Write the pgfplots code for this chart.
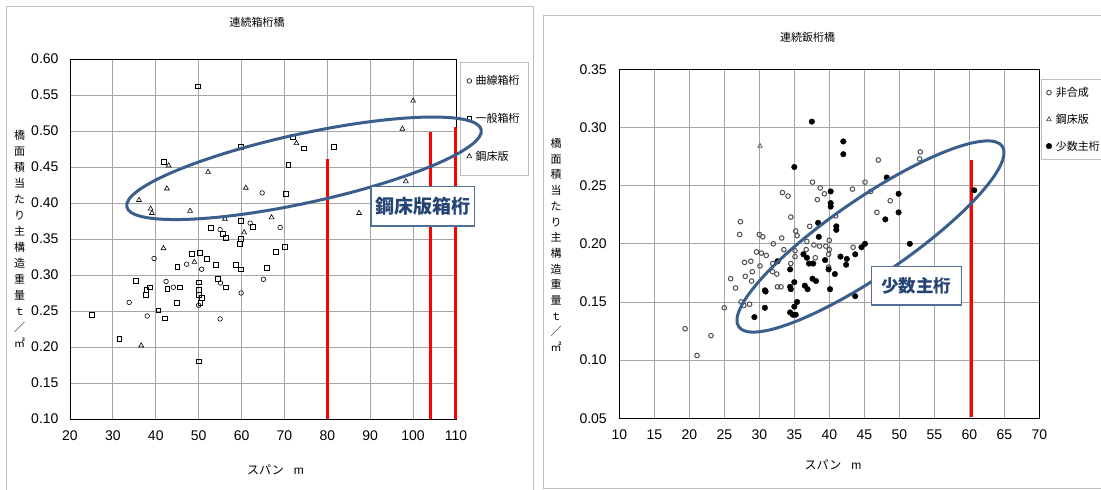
\documentclass[border=0pt]{standalone}
\usepackage{fontspec}
\setmainfont{Liberation Sans}
\newfontfamily\cjk{Noto Sans CJK JP}
\usepackage{pgfplots}
\pgfplotsset{compat=1.18}
\definecolor{ellblue}{RGB}{59,95,140}
\definecolor{boxtext}{RGB}{38,68,115}
\definecolor{boxedge}{RGB}{80,110,150}
\definecolor{gridgray}{RGB}{165,165,165}
\definecolor{framegray}{RGB}{190,190,190}
\definecolor{redline}{RGB}{255,0,0}
\definecolor{opengray}{RGB}{80,80,80}

\pgfplotsset{
  common/.style={
    scale only axis,
    grid=major,
    major grid style={gridgray, line width=0.9pt},
    axis line style={black, line width=0.9pt},
    tick style={draw=none},
    /pgf/number format/assume math mode=true,
    yticklabel style={/pgf/number format/fixed, /pgf/number format/fixed zerofill, /pgf/number format/precision=2},
    ticklabel style={font=\fontsize{14}{14}\selectfont},
    clip=false,
    legend cell align=left,
    legend image code/.code={\draw[##1] plot coordinates {(0pt,0pt)};},
  }
}

\begin{document}
\begin{tikzpicture}[x=1pt,y=1pt]
\useasboundingbox (0,0) rectangle (1101,490);
\clip (0,0) rectangle (1101,490);
\fill[white] (0,0) rectangle (1101,490);
% outer frames
\draw[framegray, line width=0.9pt] (6.9,-5) -- (6.9,483.3) -- (533.7,483.3) -- (533.7,-5);
\draw[framegray, line width=0.9pt] (543.6,1.7) rectangle (1120,475);

% ---------------- left chart ----------------
\begin{axis}[common,
  at={(70pt,71pt)}, anchor=south west, width=386pt, height=360pt,
  xmin=20, xmax=110, ymin=0.10, ymax=0.60,
  xtick={20,30,40,50,60,70,80,90,100,110},
  ytick={0.10,0.15,0.20,0.25,0.30,0.35,0.40,0.45,0.50,0.55,0.60},
  yticklabel style={xshift=-8pt}, xticklabel style={yshift=-8pt},
  legend style={at={(1.0096,0.9908)}, anchor=north west, draw=framegray, fill=white,
    inner xsep=7pt, inner ysep=12pt, row sep=25pt,
    font=\cjk\fontsize{11}{11}\selectfont, nodes={inner sep=1pt},
    /tikz/every odd column/.style={column sep=3pt}},
]
\addplot[only marks, mark=o, mark size=2.3pt, mark options={black, line width=0.6pt}] coordinates {
(64.8,0.414)(39.6,0.323)(47.2,0.315)(50.7,0.308)(33.8,0.262)(38.0,0.243)(42.4,0.291)(44.1,0.283)
(55.0,0.363)(62.0,0.372)(69.0,0.366)(65.1,0.294)(59.9,0.275)(55.0,0.239)(55.1,0.289)(50.0,0.258)
};
\addlegendentry{曲線箱桁}
\addplot[only marks, mark=square, mark size=2.4pt, mark options={black, line width=0.6pt}] coordinates {
(49.8,0.562)(41.9,0.457)(59.9,0.478)(72.0,0.492)(74.5,0.476)(81.6,0.478)(70.9,0.453)(70.4,0.413)
(52.9,0.366)(55.7,0.357)(56.4,0.352)(59.9,0.375)(62.7,0.367)(59.9,0.350)(59.6,0.343)(70.1,0.339)
(68.0,0.332)(65.9,0.310)(58.7,0.314)(59.9,0.308)(54.0,0.314)(54.4,0.295)(51.9,0.323)(50.3,0.331)
(48.4,0.329)(45.0,0.311)(45.6,0.283)(44.9,0.261)(42.7,0.281)(42.1,0.240)(40.6,0.251)(38.6,0.283)
(37.8,0.279)(37.6,0.272)(35.3,0.292)(31.5,0.211)(25.1,0.245)(50.0,0.180)(50.0,0.290)(50.0,0.279)
(50.0,0.272)(50.7,0.268)(50.4,0.261)(56.4,0.283)
};
\addlegendentry{一般箱桁}
\addplot[only marks, mark=triangle, mark size=2.8pt, mark options={black, line width=0.6pt}] coordinates {
(100.0,0.542)(97.5,0.503)(98.3,0.430)(87.4,0.386)(72.8,0.483)(52.2,0.443)(43.0,0.452)(42.6,0.420)
(61.0,0.421)(36.1,0.404)(38.8,0.392)(39.1,0.386)(48.0,0.389)(56.1,0.378)(67.0,0.380)(60.6,0.359)
(41.8,0.337)(49.0,0.318)(36.6,0.202)
};
\addlegendentry{鋼床版}
\addplot[redline, line width=3pt, forget plot] coordinates {(80,0.10)(80,0.461)};
\addplot[redline, line width=3pt, forget plot] coordinates {(104,0.10)(104,0.499)};
\addplot[redline, line width=3pt, forget plot] coordinates {(110,0.10)(110,0.506)};
\end{axis}

% ---------------- right chart ----------------
\begin{axis}[common,
  at={(619.3pt,71.7pt)}, anchor=south west, width=420pt, height=349pt,
  xmin=10, xmax=70, ymin=0.05, ymax=0.35,
  xtick={10,15,20,25,30,35,40,45,50,55,60,65,70},
  ytick={0.05,0.10,0.15,0.20,0.25,0.30,0.35},
  yticklabel style={xshift=-9pt}, xticklabel style={yshift=-8pt},
  legend style={at={(1.004,0.972)}, anchor=north west, draw=framegray, fill=white,
    inner xsep=5pt, inner ysep=7pt, row sep=14pt,
    font=\cjk\fontsize{11}{11}\selectfont, nodes={inner sep=1pt},
    /tikz/every odd column/.style={column sep=3pt}},
]
\addplot[only marks, mark=o, mark size=2.3pt, mark options={opengray, line width=1pt}] coordinates {
(19.4,0.127)(21.1,0.104)(23.1,0.121)(25.0,0.145)(26.6,0.162)(25.9,0.170)(27.3,0.219)(27.2,0.208)
(28.0,0.172)(27.9,0.184)(28.8,0.185)(28.9,0.168)(29.0,0.176)(27.4,0.150)(27.8,0.147)(28.6,0.148)
(29.6,0.193)(30.3,0.192)(31.0,0.190)(30.1,0.181)(30.0,0.208)(30.5,0.206)(32.0,0.200)(33.2,0.205)
(31.9,0.183)(31.9,0.176)(32.5,0.174)(32.6,0.163)(33.1,0.163)(33.3,0.244)(34.1,0.241)(34.5,0.223)
(35.2,0.211)(35.4,0.207)(33.5,0.195)(35.1,0.194)(34.5,0.183)(35.1,0.189)(36.7,0.195)(36.8,0.202)
(37.2,0.215)(37.6,0.253)(38.7,0.248)(38.3,0.238)(39.3,0.243)(37.8,0.199)(38.6,0.198)(38.0,0.188)
(39.5,0.198)(40.0,0.203)(40.0,0.195)(39.9,0.191)(39.9,0.180)(40.9,0.224)(43.4,0.197)(43.3,0.247)
(45.1,0.253)(45.9,0.245)(47.0,0.272)(46.8,0.227)(48.7,0.237)(53.0,0.279)(52.9,0.273)
};
\addlegendentry{非合成}
\addplot[only marks, mark=triangle, mark size=2.6pt, mark options={opengray, line width=0.7pt}] coordinates {
(30.1,0.284)
};
\addlegendentry{鋼床版}
\addplot[only marks, mark=*, mark size=2.8pt, mark options={black}] coordinates {
(37.5,0.305)(42.0,0.288)(42.0,0.277)(35.0,0.266)(48.2,0.257)(60.7,0.246)(40.2,0.245)(49.9,0.243)
(40.2,0.235)(40.2,0.232)(49.9,0.227)(48.0,0.221)(38.4,0.218)(41.0,0.215)(41.0,0.212)(38.5,0.206)
(51.5,0.200)(45.1,0.200)(44.6,0.197)(43.7,0.191)(41.6,0.189)(42.5,0.187)(42.4,0.182)(39.4,0.186)
(36.3,0.191)(36.8,0.188)(37.1,0.183)(37.7,0.183)(32.6,0.185)(34.4,0.178)(39.9,0.178)(40.8,0.174)
(37.6,0.170)(38.1,0.168)(35.0,0.167)(34.4,0.163)(34.5,0.161)(36.5,0.164)(36.9,0.161)(40.1,0.161)
(30.8,0.160)(30.9,0.159)(35.4,0.150)(35.0,0.146)(30.8,0.145)(34.4,0.141)(34.8,0.139)(35.2,0.139)
(29.3,0.137)(43.7,0.155)
};
\addlegendentry{少数主桁}
\addplot[redline, line width=3pt, forget plot] coordinates {(60.3,0.051)(60.3,0.272)};
\end{axis}

% ---------------- overlays ----------------
\draw[ellblue, line width=3pt, rotate around={12.3:(304,321.7)}] (304,321.7) ellipse [x radius=181.4, y radius=34.5];
\draw[ellblue, line width=3pt, rotate around={34.4:(870.5,253.5)}] (870.5,253.5) ellipse [x radius=159.7, y radius=38.3];

\draw[boxedge, line width=1.2pt, fill=white] (370.9,264) rectangle (474.5,303.3);
\node[boxtext, font=\cjk\bfseries\fontsize{19}{19}\selectfont] at (422.7,283.7) {鋼床版箱桁};
\draw[boxedge, line width=1.2pt, fill=white] (871.7,185) rectangle (961.1,223.3);
\node[boxtext, font=\cjk\bfseries\fontsize{17.5}{17.5}\selectfont] at (916.4,204.2) {少数主桁};

% titles
\node[font=\cjk\fontsize{11}{11}\selectfont] at (257,467.7) {連続箱桁橋};
\node[font=\cjk\fontsize{11}{11}\selectfont] at (807.6,452.3) {連続鈑桁橋};
\node[font=\fontsize{12}{12}\selectfont] at (275.5,20) {{\cjk スパン}\hspace{10pt}m};
\node[font=\fontsize{12}{12}\selectfont] at (833,25) {{\cjk スパン}\hspace{10pt}m};
\node[align=center, font=\cjk\fontsize{11}{16}\selectfont] at (19.6,251) {橋\\面\\積\\当\\た\\り\\主\\構\\造\\重\\量\\ｔ\\／\\㎡};
\node[align=center, font=\cjk\fontsize{11}{15.7}\selectfont] at (556,245) {橋\\面\\積\\当\\た\\り\\主\\構\\造\\重\\量\\ｔ\\／\\㎡};
\end{tikzpicture}
\end{document}
